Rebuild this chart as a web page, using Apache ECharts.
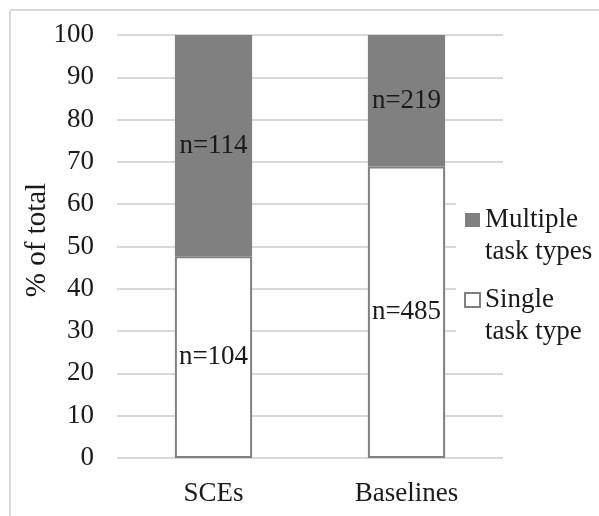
<!DOCTYPE html>
<html>
<head>
<meta charset="utf-8">
<script src="https://cdn.jsdelivr.net/npm/echarts@6/dist/echarts.min.js"></script>
<style>
  html, body { margin: 0; padding: 0; background: #fff; }
  #chart { width: 599px; height: 516px; }
</style>
</head>
<body>
<div id="chart"></div>
<script>
// Task-type composition per group (counts)
const categories = ['SCEs', 'Baselines'];
const singleCounts = [104, 485];
const multipleCounts = [114, 219];
const seriesNames = ['Single task type', 'Multiple task types'];
const yTicks = [0, 10, 20, 30, 40, 50, 60, 70, 80, 90, 100];

// Share of each group's total, in percent
const totals = categories.map((_, i) => singleCounts[i] + multipleCounts[i]);
const singlePct = singleCounts.map((v, i) => v / totals[i] * 100);
const multiplePct = multipleCounts.map((v, i) => v / totals[i] * 100);

const FONT = '"Liberation Serif", "Times New Roman", serif';
const FS = 27;
const INK = '#1a1a1a';

const chart = echarts.init(document.getElementById('chart'));
chart.setOption({
  backgroundColor: '#fff',
  animation: false,
  graphic: [
    // frame edges
    { type: 'line', shape: { x1: 10, y1: 10, x2: 599, y2: 10 }, style: { stroke: '#d9d9d9', lineWidth: 2 } },
    { type: 'line', shape: { x1: 10, y1: 10, x2: 10, y2: 516 }, style: { stroke: '#d9d9d9', lineWidth: 2 } },
    // white panel behind the legend, hiding the gridlines it sits over
    { type: 'rect', shape: { x: 456, y: 192, width: 143, height: 156 }, style: { fill: '#fff' }, z: 2 }
  ],
  grid: { left: 117, right: 96, top: 35, bottom: 58 },
  legend: {
    orient: 'vertical',
    left: 464,
    top: 172,
    data: [seriesNames[1], seriesNames[0]],
    icon: 'rect',
    itemWidth: 15,
    itemHeight: 14,
    itemGap: -16,
    padding: 0,
    // a blank first line keeps the marker level with the label's first line
    formatter: name => '\n' + name.replace(' task', '\ntask'),
    textStyle: { fontFamily: FONT, fontSize: FS, color: INK, lineHeight: 32 }
  },
  xAxis: {
    type: 'category',
    data: categories,
    axisLine: { show: false },
    axisTick: { show: false },
    axisLabel: { fontFamily: FONT, fontSize: FS, color: INK, margin: 22 }
  },
  yAxis: {
    type: 'value',
    min: yTicks[0],
    max: yTicks[yTicks.length - 1],
    interval: yTicks[1] - yTicks[0],
    name: '% of total',
    nameLocation: 'middle',
    nameGap: 65,
    nameMoveOverlap: false,
    nameTextStyle: { fontFamily: FONT, fontSize: 29, color: INK, padding: [0, 0, 0, 13] },
    axisLine: { show: false },
    axisTick: { show: false },
    axisLabel: { fontFamily: FONT, fontSize: FS, color: INK, margin: 23 },
    splitLine: { lineStyle: { color: '#d9d9d9', width: 2 } }
  },
  series: [
    {
      name: seriesNames[0],
      type: 'bar',
      stack: 'total',
      barWidth: '40%',
      data: singlePct,
      itemStyle: { color: '#ffffff', borderColor: '#808080', borderWidth: 2 },
      label: {
        show: true,
        position: 'inside',
        fontFamily: FONT, fontSize: FS, color: INK,
        formatter: p => 'n=' + singleCounts[p.dataIndex]
      }
    },
    {
      name: seriesNames[1],
      type: 'bar',
      stack: 'total',
      barWidth: '40%',
      data: multiplePct,
      itemStyle: { color: '#808080' },
      label: {
        show: true,
        position: 'inside',
        fontFamily: FONT, fontSize: FS, color: INK,
        formatter: p => 'n=' + multipleCounts[p.dataIndex]
      }
    }
  ]
});
</script>
</body>
</html>
